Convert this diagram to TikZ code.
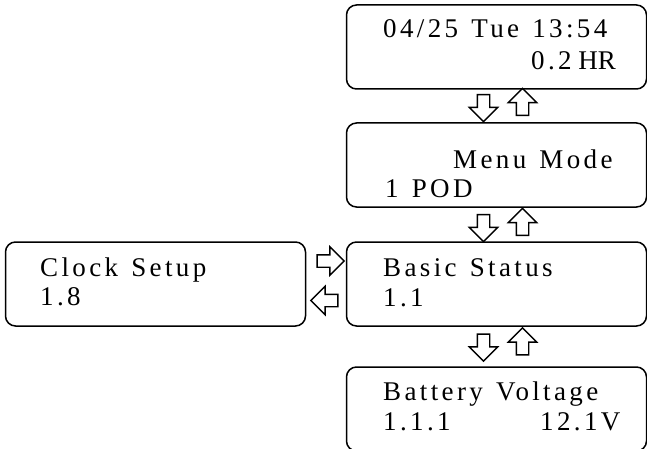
\documentclass[tikz,border=0pt]{standalone}
\usepackage{fontspec}
\setmainfont{Liberation Serif}
\newfontfamily\lcdfont[LetterSpace=12.5,WordSpace=1.3]{Liberation Serif}
\newfontfamily\lcdplain{Liberation Serif}
\usetikzlibrary{shapes.arrows}
\tikzset{
    lcdbox/.style={draw, line width=1.5pt, rounded corners=10pt, minimum width=300pt, minimum height=84pt, inner sep=0pt},
    lcdtext/.style={anchor=base west, inner sep=0pt, font=\fontsize{27}{32}\selectfont\lcdfont},
    blockarrow/.style={single arrow, draw, line width=1.4pt, minimum height=27pt, minimum width=27pt, inner sep=5.5pt, single arrow head extend=8pt}
}
\begin{document}
\begin{tikzpicture}[x=1pt, y=-1pt]
    \useasboundingbox (0,0) rectangle (647,449);
    % boxes
    \node[lcdbox] (home) at (496.5,47) {};
    \node[lcdbox] (menu) at (496.5,165) {};
    \node[lcdbox] (basic) at (496.5,284) {};
    \node[lcdbox] (clock) at (155.5,284) {};
    \node[lcdbox] (batt) at (496.5,409) {};
    % texts
    \node[lcdtext] (t1) at (383,38) {04/25 Tue 13:54};
    \node[lcdtext] (t2) at (531,70) {0.2{\lcdplain\ HR}};
    \node[lcdtext] (t3) at (453,168) {Menu Mode};
    \node[lcdtext] (t4) at (385,197) {1 POD};
    \node[lcdtext] (t5) at (383,276) {Basic Status};
    \node[lcdtext] (t6) at (383,306) {1.1};
    \node[lcdtext] (t7) at (40,276) {Clock Setup};
    \node[lcdtext] (t8) at (40,305) {1.8};
    \node[lcdtext] (t9) at (383,400) {Battery Voltage};
    \node[lcdtext] (t10) at (383,430) {1.1.1};
    \node[lcdtext] (t11) at (540,430) {12.1V};
    % arrows down / up
    \node[blockarrow, shape border rotate=270] (d1) at (483.5,105) {};
    \node[blockarrow, shape border rotate=90] (u1) at (522.5,105) {};
    \node[blockarrow, shape border rotate=270] (d2) at (483.5,225) {};
    \node[blockarrow, shape border rotate=90] (u2) at (522.5,225) {};
    \node[blockarrow, shape border rotate=270] (d3) at (483.5,344.5) {};
    \node[blockarrow, shape border rotate=90] (u3) at (522.5,344.5) {};
    % arrows right / left
    \node[blockarrow] (r1) at (327.5,261) {};
    \node[blockarrow, shape border rotate=180] (l1) at (327.5,300.5) {};
\end{tikzpicture}
\end{document}
